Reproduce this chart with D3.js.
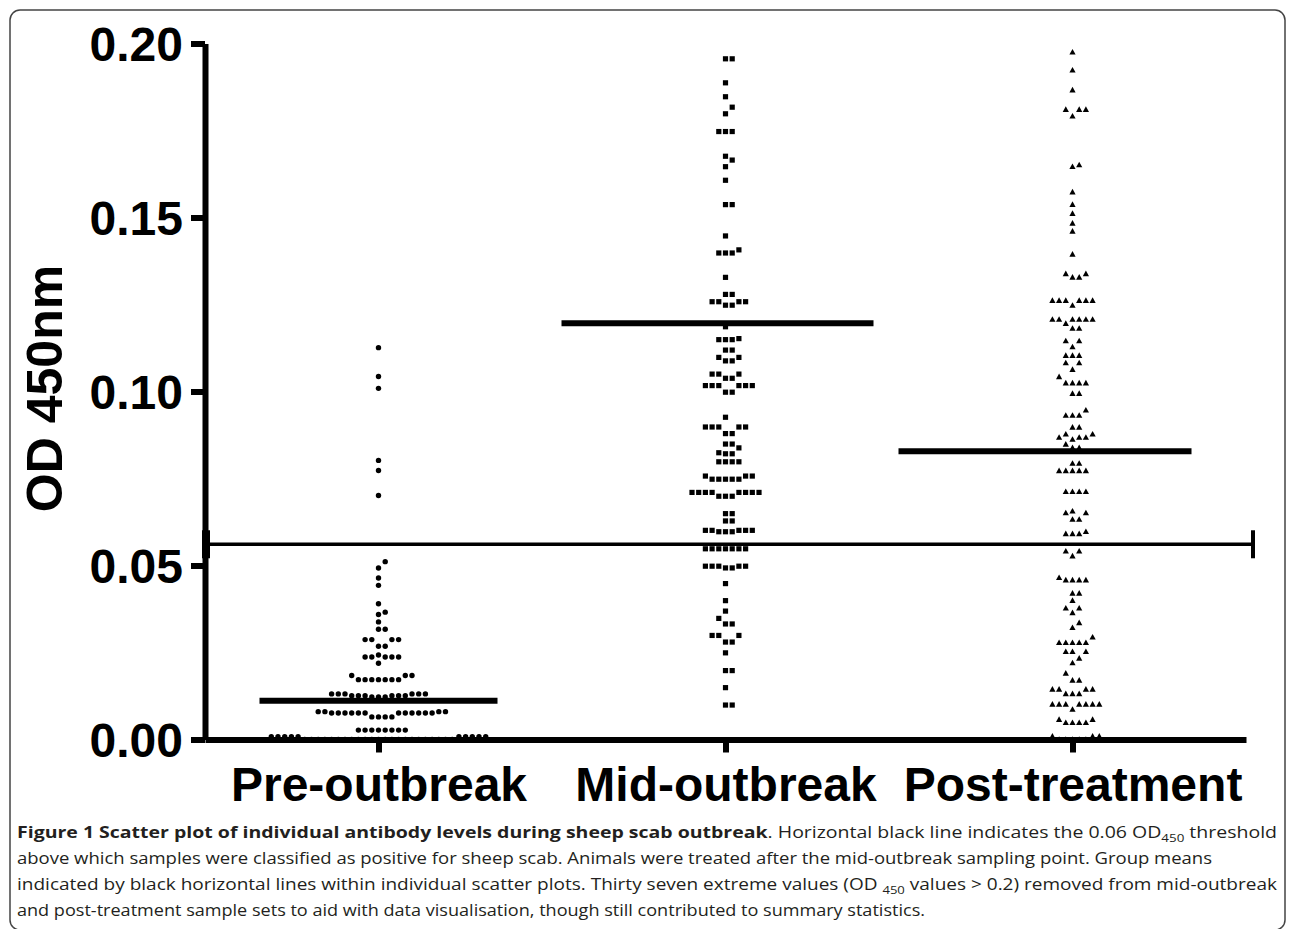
<!DOCTYPE html>
<html lang="en">
<head>
<meta charset="utf-8">
<title>Scatter plot of individual antibody levels</title>
<script src="https://cdn.jsdelivr.net/npm/d3@7"></script>
<style>
  body { margin: 0; background: #fff; }
  svg { display: block; }
</style>
</head>
<body>
<script>
// group names and marker shapes
var groups = ["Pre-outbreak", "Mid-outbreak", "Post-treatment"];
var shapes = ["circle", "square", "triangle"];

// OD450 readings per group (values > 0.2 not shown)
var preValues = [
  0, 0, 0, 0, 0, 0, 0, 0, 0, 0, 0, 0, 0, 0, 0, 0, 0, 0, 0, 0, 0, 0, 0,
  0.0008, 0.0008, 0.0008, 0.0008, 0.0008, 0.0008, 0.0008, 0.0008, 0.0008, 0.0008,
  0.0027, 0.0027, 0.0027, 0.0027, 0.0027, 0.0027, 0.0027, 0.0027,
  0.0065, 0.0065, 0.0065, 0.0065,
  0.0076, 0.0076, 0.0076, 0.0076, 0.0076, 0.0076, 0.0076, 0.0076, 0.0076, 0.0076, 0.0076, 0.0076,
  0.0080, 0.0080, 0.0080, 0.0080,
  0.0122, 0.0122, 0.0122,
  0.0126, 0.0126, 0.0126, 0.0126, 0.0126, 0.0126,
  0.0131, 0.0131, 0.0131, 0.0131, 0.0131, 0.0131,
  0.0172, 0.0172, 0.0172, 0.0172, 0.0172, 0.0172, 0.0172,
  0.0184, 0.0184, 0.0184,
  0.0219, 0.0237, 0.0237, 0.0237, 0.0237, 0.0237, 0.0243,
  0.0268, 0.0268, 0.0287, 0.0287, 0.0287, 0.0287,
  0.0317, 0.0317, 0.0338, 0.0359, 0.0366, 0.0390, 0.0443, 0.0464, 0.0493, 0.0511,
  0.0701, 0.0773, 0.0802, 0.1009, 0.1043, 0.1126
];
var midValues = [
  0.0099, 0.0099, 0.0149, 0.0198, 0.0198, 0.0249, 0.0280, 0.0280,
  0.0299, 0.0299, 0.0299, 0.0332, 0.0332, 0.0348, 0.0369, 0.0399, 0.0448,
  0.0493, 0.0493, 0.0498, 0.0498, 0.0498, 0.0498, 0.0498,
  0.0548, 0.0548, 0.0548, 0.0548, 0.0548, 0.0548, 0.0548,
  0.0597, 0.0597, 0.0597, 0.0601, 0.0601, 0.0601, 0.0601, 0.0601,
  0.0628, 0.0628, 0.0649, 0.0649,
  0.0699, 0.0699, 0.0699, 0.0710, 0.0710, 0.0710, 0.0710, 0.0710, 0.0710, 0.0710, 0.0710,
  0.0748, 0.0748, 0.0748, 0.0748, 0.0748, 0.0757, 0.0757, 0.0757,
  0.0798, 0.0798, 0.0798, 0.0798, 0.0821, 0.0821, 0.0824, 0.0838, 0.0849, 0.0849,
  0.0879, 0.0879, 0.0898, 0.0898, 0.0898, 0.0898, 0.0898, 0.0926,
  0.0998, 0.0998, 0.1017, 0.1017, 0.1017, 0.1017, 0.1017, 0.1017,
  0.1038, 0.1038, 0.1050, 0.1050, 0.1050,
  0.1088, 0.1088, 0.1098, 0.1098, 0.1119, 0.1119,
  0.1149, 0.1149, 0.1149, 0.1152, 0.1186,
  0.1248, 0.1248, 0.1258, 0.1258, 0.1258, 0.1258, 0.1279, 0.1279, 0.1328,
  0.1398, 0.1398, 0.1398, 0.1407, 0.1447, 0.1537, 0.1537, 0.1607,
  0.1646, 0.1665, 0.1676, 0.1747, 0.1747, 0.1747, 0.1798, 0.1817, 0.1847, 0.1887,
  0.1956, 0.1956
];
var postValues = [
  0, 0, 0, 0, 0, 0.0009, 0.0009, 0.0009,
  0.0048, 0.0048, 0.0048, 0.0048, 0.0057, 0.0057, 0.0086,
  0.0101, 0.0101, 0.0101, 0.0101, 0.0101, 0.0101, 0.0101,
  0.0131, 0.0131, 0.0131, 0.0144, 0.0144, 0.0144, 0.0144,
  0.0170, 0.0170, 0.0190, 0.0220, 0.0233, 0.0252, 0.0252, 0.0252,
  0.0278, 0.0278, 0.0278, 0.0278, 0.0278, 0.0294, 0.0321, 0.0335,
  0.0364, 0.0377, 0.0377, 0.0399, 0.0420, 0.0420,
  0.0458, 0.0458, 0.0458, 0.0458, 0.0465, 0.0527, 0.0541, 0.0541,
  0.0591, 0.0591, 0.0591, 0.0597, 0.0632, 0.0632, 0.0651, 0.0651, 0.0656,
  0.0712, 0.0712, 0.0712, 0.0712,
  0.0772, 0.0772, 0.0772, 0.0772, 0.0772, 0.0793, 0.0793,
  0.0838, 0.0838, 0.0848, 0.0862, 0.0868, 0.0868, 0.0868, 0.0877, 0.0877,
  0.0897, 0.0897, 0.0931, 0.0931, 0.0931, 0.0946, 0.0994, 0.0994,
  0.1024, 0.1024, 0.1024, 0.1024, 0.1042, 0.1063, 0.1082, 0.1082,
  0.1103, 0.1103, 0.1103, 0.1128, 0.1145, 0.1145, 0.1181, 0.1181, 0.1195,
  0.1207, 0.1207, 0.1207, 0.1207, 0.1207, 0.1207, 0.1247,
  0.1261, 0.1261, 0.1261, 0.1261, 0.1261, 0.1261,
  0.1328, 0.1328, 0.1338, 0.1338, 0.1394, 0.1460, 0.1483, 0.1511, 0.1537, 0.1573,
  0.1646, 0.1651, 0.1791, 0.1810, 0.1810, 0.1810, 0.1866, 0.1923, 0.1975
];
var groupValues = [preValues, midValues, postValues];

// group means (include the extreme values left off the plot)
var groupMeans = [0.0111, 0.1196, 0.0828];
// positivity threshold as drawn
var threshold = 0.0561;
var yTicks = [0, 0.05, 0.10, 0.15, 0.20];

var captionLines = [
  [["Figure 1 Scatter plot of individual antibody levels during sheep scab outbreak", "b"],
   [". Horizontal black line indicates the 0.06 OD", ""], ["450", "sub"], [" threshold", ""]],
  [["above which samples were classified as positive for sheep scab. Animals were treated after the mid-outbreak sampling point. Group means", ""]],
  [["indicated by black horizontal lines within individual scatter plots. Thirty seven extreme values (OD ", ""], ["450", "sub"],
   [" values > 0.2) removed from mid-outbreak", ""]],
  [["and post-treatment sample sets to aid with data visualisation, though still contributed to summary statistics.", ""]]
];

var width = 1290, height = 929;
var svg = d3.select("body").append("svg")
  .attr("width", width)
  .attr("height", height);

// rounded frame around figure + caption
svg.append("rect")
  .attr("x", 10).attr("y", 10)
  .attr("width", 1275).attr("height", 920)
  .attr("rx", 10)
  .attr("fill", "none")
  .attr("stroke", "#444")
  .attr("stroke-width", 1.5);

var y = d3.scaleLinear().domain([0, 0.2]).range([739.5, 43.5]);
var x = d3.scalePoint().domain(groups).range([205, 1246]).padding(0.5);

var spacing = 6.7;   // horizontal step between neighbouring points
var minGap = 7;      // vertical distance below which two points collide

// Prism-like column scatter: place each point at the nearest free slot
function swarm(values, cx) {
  var placed = [];
  values.slice().sort(d3.ascending).forEach(function(v) {
    var py = y(v);
    for (var k = 0; ; k++) {
      var slot = k === 0 ? 0 : (k % 2 ? (k + 1) / 2 : -k / 2);
      var hit = placed.some(function(p) { return p.slot === slot && Math.abs(p.py - py) < minGap; });
      if (!hit) {
        placed.push({ value: v, slot: slot, py: py, px: cx + slot * spacing });
        break;
      }
    }
  });
  return placed;
}

var markerPath = {
  circle: "M2.7,0A2.7,2.7 0 1,1 -2.7,0A2.7,2.7 0 1,1 2.7,0Z",
  square: "M-2.6,-2.6H2.6V2.6H-2.6Z",
  triangle: "M0,-3.3L3.1,2.3H-3.1Z"
};

groups.forEach(function(g, i) {
  var pts = swarm(groupValues[i], x(g));
  svg.append("g")
    .selectAll("path")
    .data(pts)
    .enter()
    .append("path")
    .attr("d", markerPath[shapes[i]])
    .attr("transform", function(d) { return "translate(" + d.px + "," + d.py + ")"; })
    .attr("fill", "#000");
});

// mean lines (left / right reach from the group centre)
var meanReach = [[-119, 119], [-164, 148], [-174, 119]];
svg.append("g")
  .selectAll("line")
  .data(groups)
  .enter()
  .append("line")
  .attr("x1", function(d, i) { return x(d) + meanReach[i][0]; })
  .attr("x2", function(d, i) { return x(d) + meanReach[i][1]; })
  .attr("y1", function(d, i) { return y(groupMeans[i]); })
  .attr("y2", function(d, i) { return y(groupMeans[i]); })
  .attr("stroke", "#000")
  .attr("stroke-width", 6);

// axes
var yAxis = svg.append("g")
  .attr("transform", "translate(205,0)")
  .call(d3.axisLeft(y).tickValues(yTicks).tickFormat(d3.format(".2f")).tickSize(14).tickSizeOuter(0).tickPadding(8));
var xAxis = svg.append("g")
  .attr("transform", "translate(0,739.5)")
  .call(d3.axisBottom(x).tickSize(13).tickSizeOuter(0));

[yAxis, xAxis].forEach(function(ax) {
  ax.select(".domain").attr("stroke", "#000").attr("stroke-width", 6);
  ax.selectAll(".tick line").attr("stroke", "#000").attr("stroke-width", 6);
  ax.selectAll(".tick text")
    .attr("fill", "#000")
    .style("font-family", "'Liberation Sans', Arial, sans-serif")
    .style("font-weight", "bold")
    .style("font-size", "48px");
});
yAxis.selectAll(".tick text").attr("dy", "0.36em");
xAxis.selectAll(".tick text").attr("y", 61).attr("dy", null);

// threshold line with end caps
var ty = y(threshold);
var thr = svg.append("g").attr("stroke", "#000");
thr.append("line").attr("x1", 205).attr("x2", 1253).attr("y1", ty).attr("y2", ty).attr("stroke-width", 3.5);
thr.append("line").attr("x1", 206).attr("x2", 206).attr("y1", ty - 14).attr("y2", ty + 14).attr("stroke-width", 8);
thr.append("line").attr("x1", 1253).attr("x2", 1253).attr("y1", ty - 14).attr("y2", ty + 14).attr("stroke-width", 4);

// y axis title
svg.append("text")
  .attr("transform", "translate(62,388.5) rotate(-90)")
  .attr("text-anchor", "middle")
  .style("font-family", "'Liberation Sans', Arial, sans-serif")
  .style("font-weight", "bold")
  .style("font-size", "50px")
  .text("OD 450nm");

// caption
var captionWidths = [1260, 1195, 1260, 908];
captionLines.forEach(function(parts, i) {
  var t = svg.append("text")
    .attr("x", 17)
    .attr("y", 838 + i * 26)
    .attr("textLength", captionWidths[i])
    .attr("lengthAdjust", "spacingAndGlyphs")
    .style("font-family", "'Open Sans', 'Noto Sans', sans-serif")
    .style("font-size", "16px")
    .attr("fill", "#231f20");
  parts.forEach(function(p) {
    var s = t.append("tspan").text(p[0]);
    if (p[1] === "b") s.style("font-weight", "bold");
    if (p[1] === "sub") s.style("font-size", "11px").attr("dy", 4);
    else if (s.node().previousSibling && parts[parts.indexOf(p) - 1][1] === "sub") s.attr("dy", -4);
  });
});
</script>
</body>
</html>
